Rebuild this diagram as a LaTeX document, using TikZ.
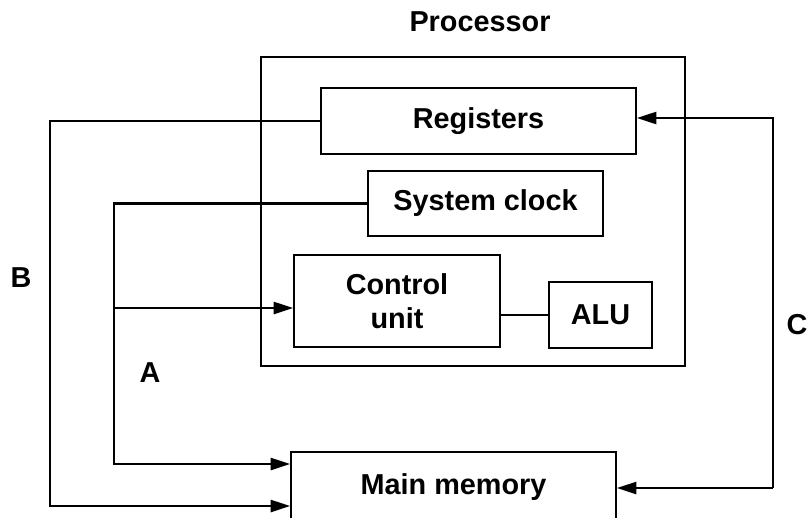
\documentclass[tikz,border=0pt]{standalone}
\usepackage{fontspec}
\setmainfont{Liberation Sans}
\usetikzlibrary{arrows.meta}

\tikzset{
	unit/.style={draw, line width=1.1pt, inner sep=0pt, align=center, font=\fontsize{20.5}{24}\selectfont\bfseries},
	conn/.style={line width=2pt},
	tip/.style={-{Triangle[length=14pt,width=8.5pt]}},
	lbl/.style={font=\fontsize{20.5}{24}\selectfont\bfseries},
}

\begin{document}
\begin{tikzpicture}[x=0.25mm, y=-0.25mm]
		\useasboundingbox (0,0) rectangle (810,517);
		
		%processor
		\node[lbl] (proc) at (480,22) {Processor};
		\node[draw, line width=1.6pt, minimum width=106mm, minimum height=77.25mm] (cpu) at (473,211.5) {};
		
		%units
		\node[unit, minimum width=78.75mm, minimum height=16.5mm] (reg) at (478.5,121) {Registers};
		\node[unit, minimum width=58.75mm, minimum height=16.25mm] (clk) at (485.5,203.5) {System clock};
		\node[unit, minimum width=51.5mm, minimum height=23mm] (cu) at (397,301) {Control\\unit};
		\node[unit, minimum width=25.75mm, minimum height=16.5mm] (alu) at (600.5,315) {ALU};
		\node[unit, minimum width=81.25mm, minimum height=17.5mm] (mem) at (453.5,487) {Main memory};
		
		%bus corners
		\coordinate (bCorner) at (50,506);
		\coordinate (aMid) at (114,308);
		\coordinate (aCorner) at (114,464);
		\coordinate (cTop) at (773,118);
		\coordinate (cBot) at (773,488);
		
		%connections
		\draw[conn, tip] (reg.west) -| (bCorner) -- (bCorner -| mem.west);
		\draw[conn, tip] (clk.west) -| (aCorner) -- (aCorner -| mem.west);
		\draw[conn, tip] (aMid) -- (aMid -| cu.west);
		\draw[conn, tip] (cBot) -- (cTop) -- (cTop -| reg.east);
		\draw[conn, tip] (cBot) -- (cBot -| mem.east);
		\draw[line width=1.4pt] (alu.west -| cu.east) -- (alu.west);
		
		%labels
		\node[lbl] (labB) at (21,278) {B};
		\node[lbl] (labA) at (150,373) {A};
		\node[lbl] (labC) at (797,325) {C};
	\end{tikzpicture}
\end{document}
